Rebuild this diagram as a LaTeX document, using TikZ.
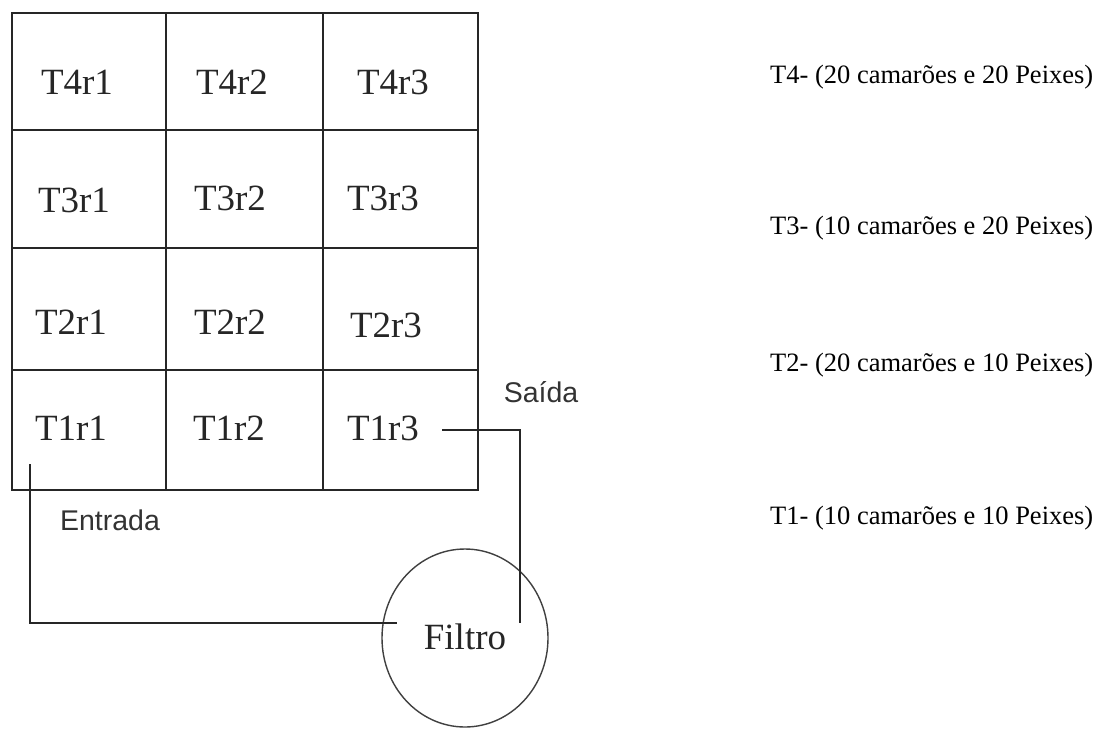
\documentclass[tikz,border=0pt]{standalone}
\usepackage{fontspec}
\setmainfont{Liberation Serif}
\newfontfamily\sansf{Liberation Sans}
\usetikzlibrary{shapes.geometric}
\begin{document}
\begin{tikzpicture}[x=1pt,y=-1pt,
  gridline/.style={line width=2pt,black!85},
  conn/.style={line width=2pt,black!85},
  lbl/.style={inner sep=0pt,font=\fontsize{37}{40}\selectfont,text=black!85},
  io/.style={inner sep=0pt,font=\sansf\fontsize{28.5}{32}\selectfont,text=black!80},
  legend/.style={inner sep=0pt,anchor=west,font=\fontsize{26.5}{30}\selectfont},
  filt/.style={ellipse,draw=black!75,line width=1.4pt,minimum width=166pt,minimum height=178pt,inner sep=0pt}]
\fill[white] (0,0) rectangle (1098,729);
\useasboundingbox (0,0) rectangle (1098,729);
% grid
\draw[gridline] (12,13) rectangle (478,490);
\draw[gridline] (166,13) -- (166,490);
\draw[gridline] (323,13) -- (323,490);
\draw[gridline] (12,130) -- (478,130);
\draw[gridline] (12,248) -- (478,248);
\draw[gridline] (12,370) -- (478,370);
% cell labels
\node[lbl] (t4r1) at (77,82) {T4r1};
\node[lbl] (t4r2) at (232,82) {T4r2};
\node[lbl] (t4r3) at (393,82) {T4r3};
\node[lbl] (t3r1) at (74,200) {T3r1};
\node[lbl] (t3r2) at (230,198) {T3r2};
\node[lbl] (t3r3) at (383,198) {T3r3};
\node[lbl] (t2r1) at (71,322) {T2r1};
\node[lbl] (t2r2) at (230,322) {T2r2};
\node[lbl] (t2r3) at (386,325) {T2r3};
\node[lbl] (t1r1) at (71,428) {T1r1};
\node[lbl] (t1r2) at (229,428) {T1r2};
\node[lbl] (t1r3) at (383,428) {T1r3};
% labels
\node[io] (saida) at (541,392) {Saída};
\node[io] (entrada) at (110,520) {Entrada};
% filter
\node[filt] (filtro) at (465,638) {};
\node[lbl] (filtrotxt) at (465,637) {Filtro};
% connectors
\coordinate (outstart) at (442,430);
\coordinate (outend) at (520,623);
\coordinate (instart) at (30,464);
\coordinate (inend) at (397,623);
\draw[conn] (outstart) -| (outend);
\draw[conn] (instart) |- (inend);
% legend
\node[legend] (l4) at (770,77) {T4- (20 camarões e 20 Peixes)};
\node[legend] (l3) at (770,228) {T3- (10 camarões e 20 Peixes)};
\node[legend] (l2) at (770,365) {T2- (20 camarões e 10 Peixes)};
\node[legend] (l1) at (770,518) {T1- (10 camarões e 10 Peixes)};
\end{tikzpicture}
\end{document}
